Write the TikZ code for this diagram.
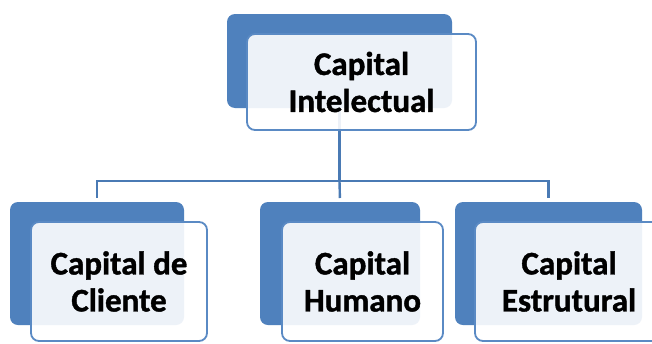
\documentclass[tikz,border=0pt]{standalone}
\usepackage{fontspec}
\setmainfont{Carlito}[BoldFont={Carlito Bold}, BoldFeatures={FakeBold=1.2}]
\definecolor{office}{HTML}{4F81BD}
\definecolor{frontline}{HTML}{5A8AC4}
\definecolor{connline}{HTML}{4A7AB4}
\begin{document}
\begin{tikzpicture}[x=1pt,y=-1pt,
  back/.style={rectangle, rounded corners=8pt, fill=office, draw=none, inner sep=0pt, outer sep=0pt},
  front/.style={rectangle, rounded corners=8pt, fill=white, fill opacity=0.9, text opacity=1, draw=frontline, line width=1.8pt, inner sep=0pt, outer sep=0pt, align=center, font=\bfseries\fontsize{33}{37}\selectfont},
  conn/.style={draw=connline, line width=2.4pt}]
\clip (0,0) rectangle (652,343);
\fill[white] (0,0) rectangle (652,343);
% back boxes
\node[back, minimum width=225pt, minimum height=94pt] (tb) at (339.5,61) {};
\node[back, minimum width=174pt, minimum height=123pt] (c1b) at (97,263.5) {};
\node[back, minimum width=160pt, minimum height=123pt] (c2b) at (340,263.5) {};
\node[back, minimum width=187pt, minimum height=123pt] (c3b) at (548.5,263.5) {};
% connectors
\coordinate (hub) at (tb.south |- 0,181);
\draw[conn] (tb.south) -- (hub);
\draw[conn, shorten >=4pt] (hub) -| (c1b.north);
\draw[conn, shorten >=4pt] (hub) -- (c2b.north);
\draw[conn, shorten >=4pt] (hub) -| (c3b.north);
% front boxes
\node[front, minimum width=229pt, minimum height=96pt] (tf) at (361.5,82) {Capital\\Intelectual};
\node[front, minimum width=176pt, minimum height=119pt] (c1f) at (119,281.5) {Capital de\\Cliente};
\node[front, minimum width=161pt, minimum height=119pt] (c2f) at (362.5,281.5) {Capital\\Humano};
\node[front, minimum width=188pt, minimum height=119pt] (c3f) at (569,281.5) {Capital\\Estrutural};
\end{tikzpicture}
\end{document}
